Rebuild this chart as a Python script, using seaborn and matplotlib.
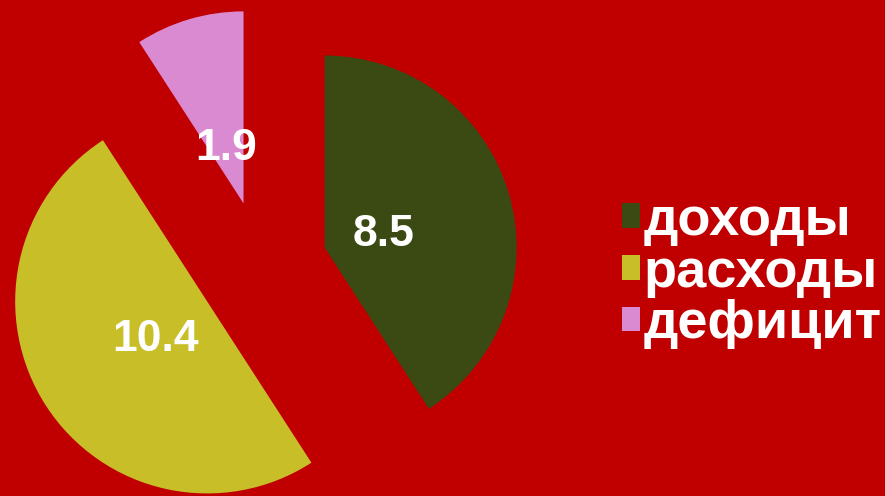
import matplotlib
matplotlib.use("Agg")
import matplotlib.pyplot as plt
import seaborn as sns

# данные
labels = ["доходы", "расходы", "дефицит"]
values = [8.5, 10.4, 1.9]
colors = ["#3B4A12", "#C8BE28", "#DA8AD0"]
bg = "#C00000"

sns.set_theme(style="white")
plt.rcParams["font.family"] = ["Liberation Sans", "DejaVu Sans"]

fig = plt.figure(figsize=(8.85, 4.96), dpi=100, facecolor=bg)
ax = fig.add_axes([0, 0, 1, 1])
ax.set_facecolor(bg)

total = sum(values)
wedges, _, autotexts = ax.pie(
    values, colors=colors, startangle=90, counterclock=False,
    explode=[0.34] * len(values), autopct=lambda p: f"{p * total / 100:.1f}",
    pctdistance=0.32, wedgeprops={"linewidth": 0},
    textprops={"color": "white", "fontsize": 32, "fontweight": "bold"},
)
for t in autotexts:
    t.set_verticalalignment("center_baseline")

# пиксели: центр (262, 266), радиус 192
r = 192
ax.set_xlim(-262 / r, (885 - 262) / r)
ax.set_ylim(-(496 - 266) / r, 266 / r)
ax.set_aspect("auto")
ax.axis("off")

leg = fig.legend(
    wedges, labels, loc="center left", bbox_to_anchor=(0.703, 0.45),
    frameon=False, handlelength=0.33, handleheight=0.33,
    handletextpad=0.07, labelspacing=0.03, borderpad=0, borderaxespad=0,
    prop={"weight": "bold", "size": 39},
)
for t in leg.get_texts():
    t.set_color("white")

fig.savefig("out.png", dpi=100, facecolor=bg)
